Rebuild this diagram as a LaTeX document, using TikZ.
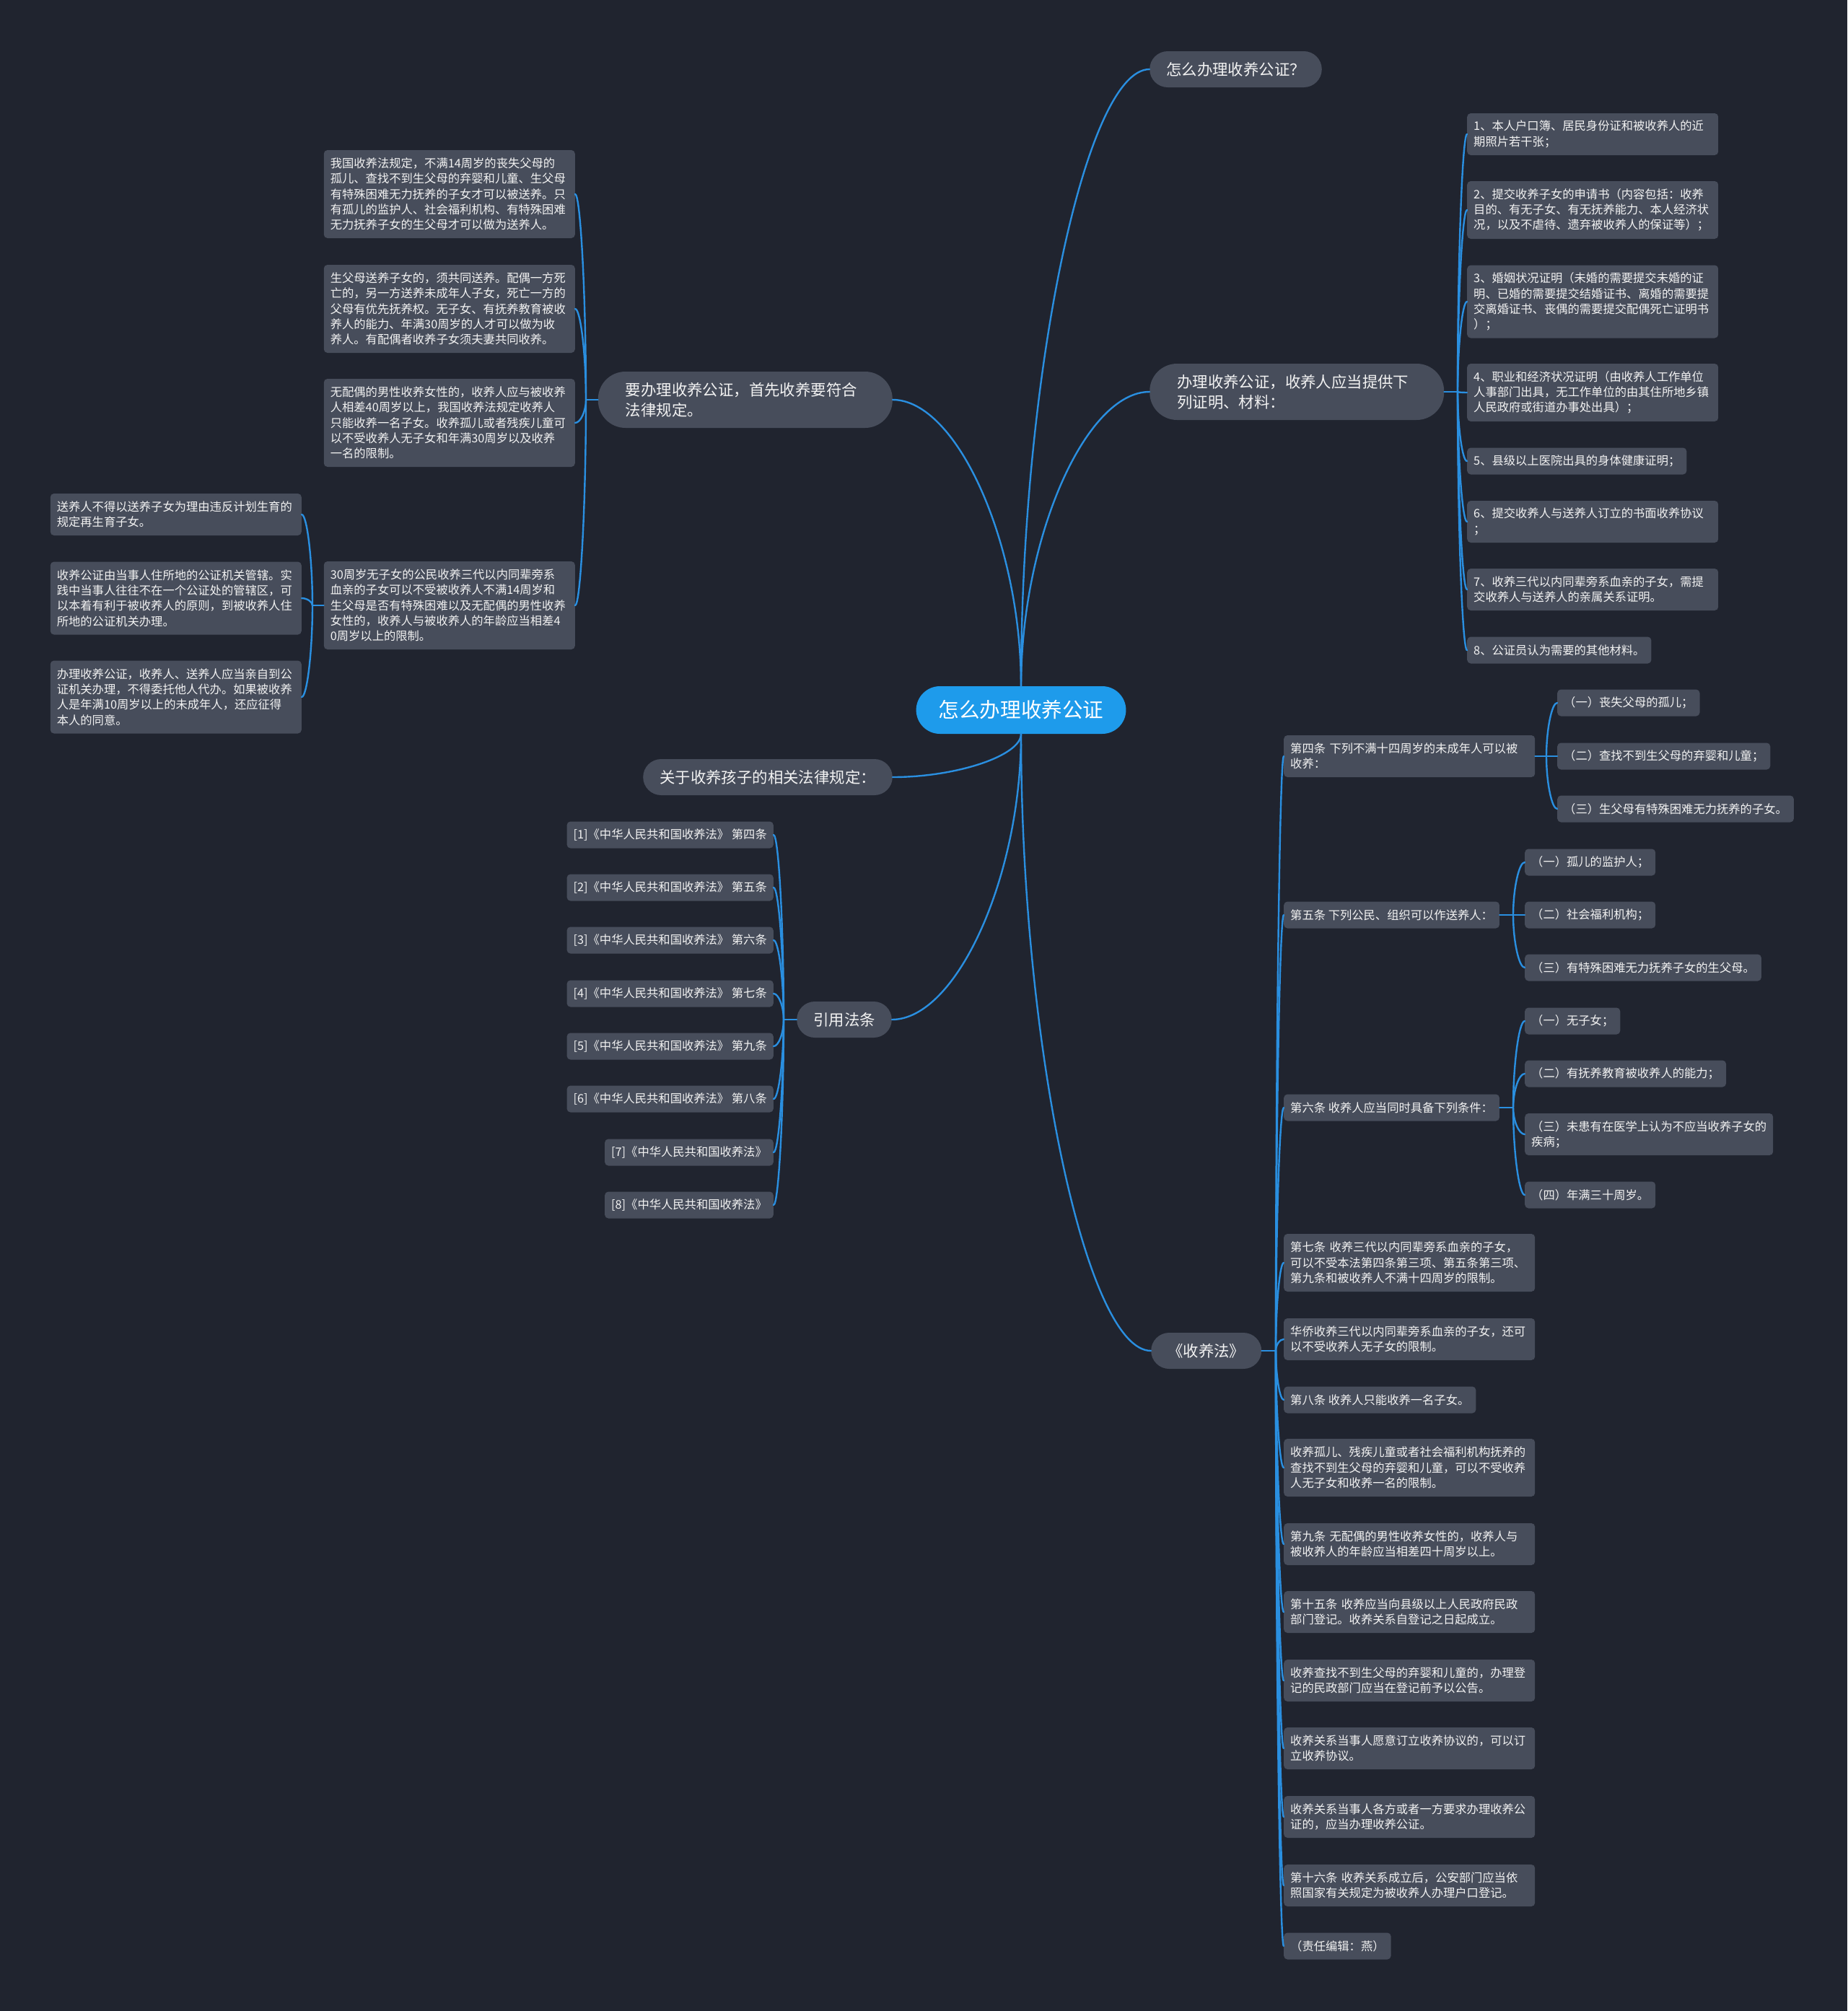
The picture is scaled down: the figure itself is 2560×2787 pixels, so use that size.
\documentclass[tikz,border=0pt]{standalone}
\usepackage{fontspec}
\setmainfont{Noto Sans CJK SC}
\usetikzlibrary{calc}
\definecolor{bgc}{HTML}{20242F}
\definecolor{boxc}{HTML}{474D5B}
\definecolor{rootc}{HTML}{1E9BEB}
\definecolor{linec}{HTML}{2A8FE0}
\definecolor{txtc}{HTML}{F2F2F2}
\newcommand\mmfs{\fontsize{16.3pt}{21.3pt}\selectfont}
\newcommand\mmfl{\fontsize{21.4pt}{28pt}\selectfont}
\newcommand\mmfr{\fontsize{28.6pt}{34pt}\selectfont}
\newcommand\mmconn[2]{%
  \path (#1) coordinate (mmA) (#2) coordinate (mmB) (mmA|-mmB) coordinate (mmK);
  \draw[conn] (mmA) .. controls ($(mmA)!0.5!(mmK)$) and ($(mmB)!0.5!(mmK)$) .. (mmB);}
\tikzset{
  conn/.style={draw=linec, line width=2.4pt, line cap=round},
  rootnode/.style={fill=rootc, rounded corners=33pt, text=white, font=\mmfr, inner xsep=31pt, inner ysep=0pt, minimum height=66pt},
  lone/.style={fill=boxc, rounded corners=25pt, text=txtc, font=\mmfl, inner xsep=23pt, inner ysep=0pt, minimum height=50pt},
  lonem/.style={fill=boxc, rounded corners=38pt, text=txtc, font=\mmfl, inner xsep=38pt, inner ysep=0pt, minimum height=78pt, text width=332pt, align=left},
  leaf/.style={fill=boxc, rounded corners=5pt, text=txtc, font=\mmfs, align=left, inner xsep=9pt, inner ysep=0pt, minimum height=37pt},
  wide/.style={text width=330pt},
  htwo/.style={minimum height=58pt},
  hthree/.style={minimum height=80pt},
  hfour/.style={minimum height=101pt},
  hfive/.style={minimum height=122pt},
}
\begin{document}
\begin{tikzpicture}[x=1pt,y=-1pt]
\fill[bgc] (0,0) rectangle (2560,2787);

% root and level 1
\node[rootnode] (R) at (1415,984) {怎么办理收养公证};
\node[lone, anchor=west] (A) at (1593,96) {怎么办理收养公证？};
\node[lonem, anchor=west] (B) at (1593,543) {办理收养公证，收养人应当提供下\\列证明、材料：};
\node[lonem, anchor=east] (C) at (1237,554) {要办理收养公证，首先收养要符合\\法律规定。};
\node[lone, anchor=east] (D) at (1237,1077) {关于收养孩子的相关法律规定：};
\node[lone, anchor=east] (E) at (1236,1413) {引用法条};
\node[lone, anchor=west] (F) at (1595,1872) {《收养法》};

% B children
\node[leaf, wide, htwo, anchor=west] (B1) at (2033,186) {1、本人户口簿、居民身份证和被收养人的近\\期照片若干张；};
\node[leaf, wide, hthree, anchor=west] (B2) at (2033,291) {2、提交收养子女的申请书（内容包括：收养\\目的、有无子女、有无抚养能力、本人经济状\\况，以及不虐待、遗弃被收养人的保证等）；};
\node[leaf, wide, hfour, anchor=west] (B3) at (2033,418) {3、婚姻状况证明（未婚的需要提交未婚的证\\明、已婚的需要提交结婚证书、离婚的需要提\\交离婚证书、丧偶的需要提交配偶死亡证明书\\）；};
\node[leaf, wide, hthree, anchor=west] (B4) at (2033,544) {4、职业和经济状况证明（由收养人工作单位\\人事部门出具，无工作单位的由其住所地乡镇\\人民政府或街道办事处出具）；};
\node[leaf, anchor=west] (B5) at (2033,639) {5、县级以上医院出具的身体健康证明；};
\node[leaf, wide, htwo, anchor=west] (B6) at (2033,723) {6、提交收养人与送养人订立的书面收养协议\\；};
\node[leaf, wide, htwo, anchor=west] (B7) at (2033,817) {7、收养三代以内同辈旁系血亲的子女，需提\\交收养人与送养人的亲属关系证明。};
\node[leaf, anchor=west] (B8) at (2033,901) {8、公证员认为需要的其他材料。};

% C children
\node[leaf, wide, hfive, anchor=east] (C1) at (797,269) {我国收养法规定，不满14周岁的丧失父母的\\孤儿、查找不到生父母的弃婴和儿童、生父母\\有特殊困难无力抚养的子女才可以被送养。只\\有孤儿的监护人、社会福利机构、有特殊困难\\无力抚养子女的生父母才可以做为送养人。};
\node[leaf, wide, hfive, anchor=east] (C2) at (797,428) {生父母送养子女的，须共同送养。配偶一方死\\亡的，另一方送养未成年人子女，死亡一方的\\父母有优先抚养权。无子女、有抚养教育被收\\养人的能力、年满30周岁的人才可以做为收\\养人。有配偶者收养子女须夫妻共同收养。};
\node[leaf, wide, hfive, anchor=east] (C3) at (797,586) {无配偶的男性收养女性的，收养人应与被收养\\人相差40周岁以上，我国收养法规定收养人\\只能收养一名子女。收养孤儿或者残疾儿童可\\以不受收养人无子女和年满30周岁以及收养\\一名的限制。};
\node[leaf, wide, hfive, anchor=east] (C4) at (797,839) {30周岁无子女的公民收养三代以内同辈旁系\\血亲的子女可以不受被收养人不满14周岁和\\生父母是否有特殊困难以及无配偶的男性收养\\女性的，收养人与被收养人的年龄应当相差4\\0周岁以上的限制。};

% C4 children
\node[leaf, wide, htwo, anchor=east] (G1) at (418,713) {送养人不得以送养子女为理由违反计划生育的\\规定再生育子女。};
\node[leaf, wide, hfour, anchor=east] (G2) at (418,829) {收养公证由当事人住所地的公证机关管辖。实\\践中当事人往往不在一个公证处的管辖区，可\\以本着有利于被收养人的原则，到被收养人住\\所地的公证机关办理。};
\node[leaf, wide, hfour, anchor=east] (G3) at (418,966) {办理收养公证，收养人、送养人应当亲自到公\\证机关办理，不得委托他人代办。如果被收养\\人是年满10周岁以上的未成年人，还应征得\\本人的同意。};

% E children
\node[leaf, anchor=east] (E1) at (1072,1157) {[1]《中华人民共和国收养法》 第四条};
\node[leaf, anchor=east] (E2) at (1072,1230) {[2]《中华人民共和国收养法》 第五条};
\node[leaf, anchor=east] (E3) at (1072,1303) {[3]《中华人民共和国收养法》 第六条};
\node[leaf, anchor=east] (E4) at (1072,1377) {[4]《中华人民共和国收养法》 第七条};
\node[leaf, anchor=east] (E5) at (1072,1450) {[5]《中华人民共和国收养法》 第九条};
\node[leaf, anchor=east] (E6) at (1072,1523) {[6]《中华人民共和国收养法》 第八条};
\node[leaf, anchor=east] (E7) at (1072,1597) {[7]《中华人民共和国收养法》};
\node[leaf, anchor=east] (E8) at (1072,1670) {[8]《中华人民共和国收养法》};

% F children
\node[leaf, wide, htwo, anchor=west] (F1) at (1779,1048) {第四条 下列不满十四周岁的未成年人可以被\\收养：};
\node[leaf, anchor=west] (F2) at (1779,1268) {第五条 下列公民、组织可以作送养人：};
\node[leaf, anchor=west] (F3) at (1779,1535) {第六条 收养人应当同时具备下列条件：};
\node[leaf, wide, hthree, anchor=west] (F4) at (1779,1750) {第七条 收养三代以内同辈旁系血亲的子女，\\可以不受本法第四条第三项、第五条第三项、\\第九条和被收养人不满十四周岁的限制。};
\node[leaf, wide, htwo, anchor=west] (F5) at (1779,1856) {华侨收养三代以内同辈旁系血亲的子女，还可\\以不受收养人无子女的限制。};
\node[leaf, anchor=west] (F6) at (1779,1940) {第八条 收养人只能收养一名子女。};
\node[leaf, wide, hthree, anchor=west] (F7) at (1779,2034) {收养孤儿、残疾儿童或者社会福利机构抚养的\\查找不到生父母的弃婴和儿童，可以不受收养\\人无子女和收养一名的限制。};
\node[leaf, wide, htwo, anchor=west] (F8) at (1779,2140) {第九条 无配偶的男性收养女性的，收养人与\\被收养人的年龄应当相差四十周岁以上。};
\node[leaf, wide, htwo, anchor=west] (F9) at (1779,2234) {第十五条 收养应当向县级以上人民政府民政\\部门登记。收养关系自登记之日起成立。};
\node[leaf, wide, htwo, anchor=west] (F10) at (1779,2329) {收养查找不到生父母的弃婴和儿童的，办理登\\记的民政部门应当在登记前予以公告。};
\node[leaf, wide, htwo, anchor=west] (F11) at (1779,2423) {收养关系当事人愿意订立收养协议的，可以订\\立收养协议。};
\node[leaf, wide, htwo, anchor=west] (F12) at (1779,2518) {收养关系当事人各方或者一方要求办理收养公\\证的，应当办理收养公证。};
\node[leaf, wide, htwo, anchor=west] (F13) at (1779,2613) {第十六条 收养关系成立后，公安部门应当依\\照国家有关规定为被收养人办理户口登记。};
\node[leaf, anchor=west] (F14) at (1779,2697) {（责任编辑：燕）};

% F1 children
\node[leaf, anchor=west] (H1) at (2158,974) {（一）丧失父母的孤儿；};
\node[leaf, anchor=west] (H2) at (2158,1048) {（二）查找不到生父母的弃婴和儿童；};
\node[leaf, anchor=west] (H3) at (2158,1121) {（三）生父母有特殊困难无力抚养的子女。};
% F2 children
\node[leaf, anchor=west] (J1) at (2113,1195) {（一）孤儿的监护人；};
\node[leaf, anchor=west] (J2) at (2113,1268) {（二）社会福利机构；};
\node[leaf, anchor=west] (J3) at (2113,1341) {（三）有特殊困难无力抚养子女的生父母。};
% F3 children
\node[leaf, anchor=west] (K1) at (2113,1415) {（一）无子女；};
\node[leaf, anchor=west] (K2) at (2113,1488) {（二）有抚养教育被收养人的能力；};
\node[leaf, htwo, anchor=west] (K3) at (2113,1572) {（三）未患有在医学上认为不应当收养子女的\\疾病；};
\node[leaf, anchor=west] (K4) at (2113,1656) {（四）年满三十周岁。};

% connectors from root
\mmconn{R.north}{A.west}
\mmconn{R.north}{B.west}
\mmconn{R.north}{C.east}
\mmconn{R.south}{D.east}
\mmconn{R.south}{E.east}
\mmconn{R.south}{F.west}

% stubs
\coordinate (Bs) at (2020,543);
\coordinate (Cs) at (812,554);
\coordinate (C4s) at (433,839);
\coordinate (Es) at (1086,1413);
\coordinate (Fs) at (1768,1872);
\coordinate (F1s) at (2143,1048);
\coordinate (F2s) at (2097,1268);
\coordinate (F3s) at (2097,1535);
\draw[conn] (B.east) -- (Bs);
\draw[conn] (C.west) -- (Cs);
\draw[conn] (C4.west) -- (C4s);
\draw[conn] (E.west) -- (Es);
\draw[conn] (F.east) -- (Fs);
\draw[conn] (F1.east) -- (F1s);
\draw[conn] (F2.east) -- (F2s);
\draw[conn] (F3.east) -- (F3s);

\foreach \n in {B1,B2,B3,B4,B5,B6,B7,B8} {\mmconn{Bs}{\n.west}}
\foreach \n in {C1,C2,C3,C4} {\mmconn{Cs}{\n.east}}
\foreach \n in {G1,G2,G3} {\mmconn{C4s}{\n.east}}
\foreach \n in {E1,E2,E3,E4,E5,E6,E7,E8} {\mmconn{Es}{\n.east}}
\foreach \n in {F1,F2,F3,F4,F5,F6,F7,F8,F9,F10,F11,F12,F13,F14} {\mmconn{Fs}{\n.west}}
\foreach \n in {H1,H2,H3} {\mmconn{F1s}{\n.west}}
\foreach \n in {J1,J2,J3} {\mmconn{F2s}{\n.west}}
\foreach \n in {K1,K2,K3,K4} {\mmconn{F3s}{\n.west}}
\end{tikzpicture}
\end{document}
